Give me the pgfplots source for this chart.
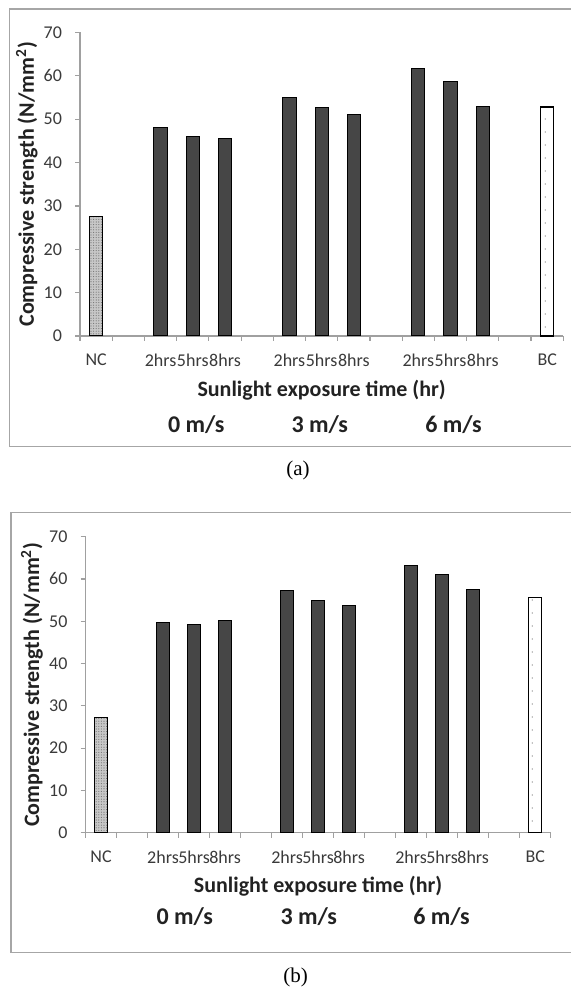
\documentclass[border=0pt]{standalone}
\usepackage{fontspec}
\setmainfont{Carlito}
\newfontfamily\capfont{Liberation Serif}
\usepackage{pgfplots}
\pgfplotsset{compat=1.18}
\usetikzlibrary{patterns,patterns.meta}
\definecolor{bardark}{HTML}{464646}
\definecolor{axgray}{HTML}{A0A0A0}
\definecolor{boxgray}{HTML}{A6A6A6}
\definecolor{txtgray}{HTML}{3A3A3A}
\definecolor{lblblack}{HTML}{222222}

\pgfplotsset{
  sunaxis/.style={
    scale only axis,
    axis lines*=left,
    axis line style={draw=axgray, line width=0.7pt},
    xmin=-0.5, xmax=14.5, ymin=0, ymax=70,
    ytick={0,10,...,70},
    xtick={-0.5,0.5,...,14.5},
    xticklabels={},
    extra x ticks={0,2,3,4,6,7,8,10,11,12,14},
    extra x tick labels={NC,2hrs,5hrs,8hrs,2hrs,5hrs,8hrs,2hrs,5hrs,8hrs,BC},
    extra x tick style={tick style={draw=none}},
    tick align=outside,
    major tick length=2.5pt,
    tick style={draw=axgray, line width=0.6pt},
    /pgf/number format/assume math mode=true,
    tick label style={font=\fontsize{9}{10}\selectfont, text=txtgray},
    xticklabel style={yshift=-3pt},
    yticklabel style={xshift=-3pt},
    label style={font=\bfseries\fontsize{11}{12}\selectfont, text=lblblack},
    clip=false,
  },
  darkbar/.style={ybar, bar shift=0pt, bar width=0.41, fill=bardark, draw=black, line width=0.5pt},
  ncbar/.style={ybar, bar shift=0pt, bar width=0.41, fill=black!22, draw=black, line width=0.5pt,
    postaction={pattern={Dots[distance=1.3pt, radius=0.28pt]}, pattern color=black!55}},
  bcbar/.style={ybar, bar shift=0pt, bar width=0.41, fill=white, draw=black, line width=0.6pt,
    postaction={pattern={Dots[distance=6.5pt, radius=0.35pt]}, pattern color=black!55}},
}

\begin{document}
\begin{tikzpicture}
\clip (0,0) rectangle (285.5pt,494.5pt);
% panel frames
\draw[boxgray, line width=0.8pt] (4.65pt,271.15pt) rectangle (295pt,489.85pt);
\draw[boxgray, line width=0.8pt] (5.5pt,18.15pt) rectangle (295pt,238.15pt);

% (a)
\begin{axis}[sunaxis,
  at={(40pt,326.5pt)}, anchor=south west,
  width=241.65pt, height=151.75pt,
  xlabel={Sunlight exposure time (hr)},
  ylabel={Compressive strength (N/mm\textsuperscript{2})},
  xlabel style={at={(axis description cs:0.5,-0.178)}, anchor=center},
  ylabel style={at={(axis description cs:-0.110,0.5)}, anchor=center},
]
\addplot[ncbar] coordinates {(0,27.5)};
\addplot[darkbar] coordinates {(2,48.1)(3,46.0)(4,45.5)(6,55.0)(7,52.6)(8,51.1)(10,61.8)(11,58.6)(12,52.9)};
\addplot[bcbar] coordinates {(14,52.8)};
\node[font=\bfseries\fontsize{12}{13}\selectfont, text=lblblack, yshift=-44.2pt] at (axis cs:3.11,0) {0 m/s};
\node[font=\bfseries\fontsize{12}{13}\selectfont, text=lblblack, yshift=-44.2pt] at (axis cs:6.94,0) {3 m/s};
\node[font=\bfseries\fontsize{12}{13}\selectfont, text=lblblack, yshift=-44.2pt] at (axis cs:11.09,0) {6 m/s};
\end{axis}

% (b)
\begin{axis}[sunaxis,
  at={(42.75pt,78.15pt)}, anchor=south west,
  width=232.6pt, height=148pt,
  xlabel={Sunlight exposure time (hr)},
  ylabel={Compressive strength (N/mm\textsuperscript{2})},
  xlabel style={at={(axis description cs:0.5,-0.182)}, anchor=center},
  ylabel style={at={(axis description cs:-0.115,0.5)}, anchor=center},
]
\addplot[ncbar] coordinates {(0,27.2)};
\addplot[darkbar] coordinates {(2,49.8)(3,49.3)(4,50.1)(6,57.3)(7,54.9)(8,53.7)(10,63.1)(11,61.0)(12,57.6)};
\addplot[bcbar] coordinates {(14,55.7)};
\node[font=\bfseries\fontsize{12}{13}\selectfont, text=lblblack, yshift=-42pt] at (axis cs:2.70,0) {0 m/s};
\node[font=\bfseries\fontsize{12}{13}\selectfont, text=lblblack, yshift=-42pt] at (axis cs:6.70,0) {3 m/s};
\node[font=\bfseries\fontsize{12}{13}\selectfont, text=lblblack, yshift=-42pt] at (axis cs:10.98,0) {6 m/s};
\end{axis}

\node[font=\capfont\fontsize{10.5}{12}\selectfont] at (149pt,259.5pt) {(a)};
\node[font=\capfont\fontsize{10.5}{12}\selectfont] at (147.85pt,5.6pt) {(b)};
\end{tikzpicture}
\end{document}
